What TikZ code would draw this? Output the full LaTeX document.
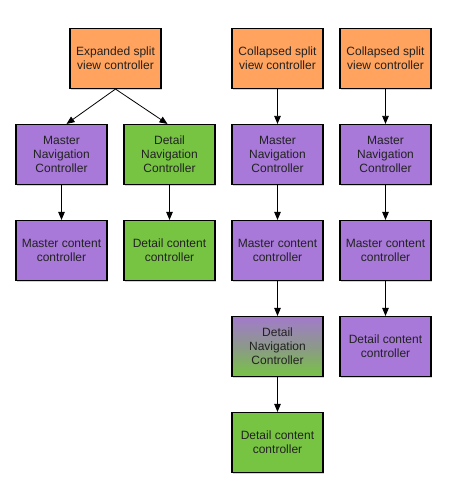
\documentclass[tikz,border=0pt]{standalone}
\usepackage{fontspec}
\setmainfont{Liberation Sans}
\usetikzlibrary{arrows.meta,shadows}
\definecolor{orng}{HTML}{FFA35E}
\definecolor{purp}{HTML}{A879D8}
\definecolor{grn}{HTML}{77C443}
\definecolor{txt}{HTML}{222222}
\begin{document}
\begin{tikzpicture}[x=1pt,y=-1pt,
  box/.style={draw=black,line width=1.1pt,minimum width=91pt,minimum height=60pt,
    inner sep=0pt,align=center,text=txt,font=\fontsize{12}{14}\selectfont,
    drop shadow={shadow xshift=1pt,shadow yshift=-1.2pt,opacity=0.35}},
  obox/.style={box,fill=orng},
  pbox/.style={box,fill=purp},
  gbox/.style={box,fill=grn},
  mbox/.style={box,top color=purp!85!gray,bottom color=grn,middle color=purp!50!grn!80!gray},
  conn/.style={line width=0.8pt,-{Triangle[length=8pt,width=6.5pt]}}]
\useasboundingbox (0,0) rectangle (450,500);
% column 1/2
\node[obox] (exp) at (115.5,58.5) {Expanded split\\view controller};
\node[pbox] (mn1) at (61.5,154.5) {Master\\Navigation\\Controller};
\node[gbox] (dn1) at (169.5,154.5) {Detail\\Navigation\\Controller};
\node[pbox] (mc1) at (61.5,250.5) {Master content\\controller};
\node[gbox] (dc1) at (169.5,250.5) {Detail content\\controller};
% column 3
\node[obox] (col3) at (277.5,58.5) {Collapsed split\\view controller};
\node[pbox] (mn3) at (277.5,154.5) {Master\\Navigation\\Controller};
\node[pbox] (mc3) at (277.5,250.5) {Master content\\controller};
\node[mbox] (dn3) at (277.5,346.5) {Detail\\Navigation\\Controller};
\node[gbox] (dc3) at (277.5,442.5) {Detail content\\controller};
% column 4
\node[obox] (col4) at (385.5,58.5) {Collapsed split\\view controller};
\node[pbox] (mn4) at (385.5,154.5) {Master\\Navigation\\Controller};
\node[pbox] (mc4) at (385.5,250.5) {Master content\\controller};
\node[pbox] (dc4) at (385.5,346.5) {Detail content\\controller};
% connectors
\draw[conn] (exp.south) -- ([xshift=5pt]mn1.north);
\draw[conn] (exp.south) -- ([xshift=-2pt]dn1.north);
\draw[conn] (mn1) -- (mc1);
\draw[conn] (dn1) -- (dc1);
\draw[conn] (col3) -- (mn3);
\draw[conn] (mn3) -- (mc3);
\draw[conn] (mc3) -- (dn3);
\draw[conn] (dn3) -- (dc3);
\draw[conn] (col4) -- (mn4);
\draw[conn] (mn4) -- (mc4);
\draw[conn] (mc4) -- (dc4);
\end{tikzpicture}
\end{document}
